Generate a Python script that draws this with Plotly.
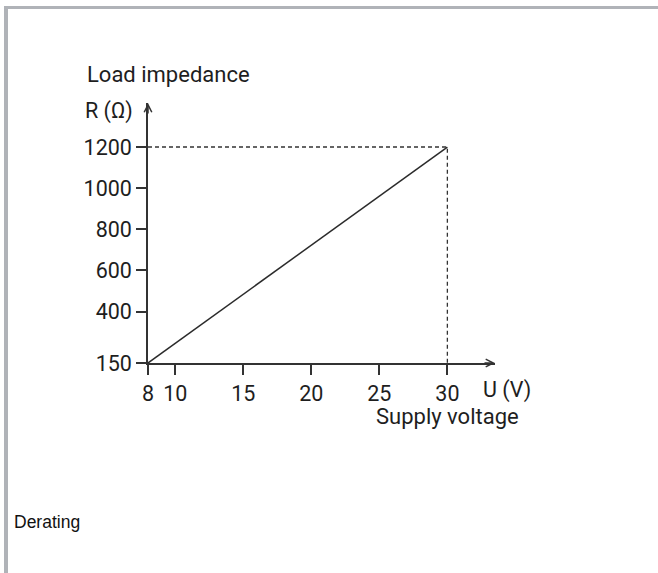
import plotly.graph_objects as go

# Data
u_line = [8, 30]
r_line = [150, 1200]
x_ticks = [8, 10, 15, 20, 25, 30]
y_ticks = [150, 400, 600, 800, 1000, 1200]
x_max_arrow = 33.5
y_max_arrow = 1414

W, H = 658, 573
ML, MR, MT, MB = 148, 163, 103, 210
PW = W - ML - MR
PH = H - MT - MB


def pxx(x):
    return (x - ML) / PW


def pxy(y):
    return (H - MB - y) / PH


FONT = "Roboto"
FS_TICK = 21.5
FS_TITLE = 22
TXT = "#1e1e1e"
AX = "#333333"

fig = go.Figure()
fig.add_trace(go.Scatter(
    x=[u_line[0], u_line[1], u_line[1]],
    y=[r_line[1], r_line[1], r_line[0]],
    mode="lines", line=dict(color="#333333", width=1.3, dash="4px,3px"),
    cliponaxis=False, hoverinfo="skip", showlegend=False))
fig.add_trace(go.Scatter(
    x=u_line, y=r_line, mode="lines",
    line=dict(color="#2b2b2b", width=1.5),
    cliponaxis=False, hoverinfo="skip", showlegend=False))

fig.update_layout(
    width=W, height=H,
    margin=dict(l=ML, r=MR, t=MT, b=MB),
    paper_bgcolor="white", plot_bgcolor="white",
    showlegend=False,
    font=dict(family=FONT, size=FS_TICK, color=TXT),
    xaxis=dict(range=[8, x_max_arrow], tickvals=x_ticks, ticktext=[str(v) for v in x_ticks],
               showgrid=False, zeroline=False, showline=True, linecolor=AX, linewidth=1.5,
               ticks="outside", ticklen=10, tickwidth=1.5, tickcolor=AX,
               tickfont=dict(family=FONT, size=FS_TICK, color=TXT), fixedrange=True),
    yaxis=dict(range=[150, y_max_arrow], tickvals=y_ticks, ticktext=[str(v) for v in y_ticks],
               showgrid=False, zeroline=False, showline=True, linecolor=AX, linewidth=1.5,
               ticks="outside", ticklen=10, tickwidth=1.5, tickcolor=AX,
               tickfont=dict(family=FONT, size=FS_TICK, color=TXT), fixedrange=True),
)

# axis arrowheads
fig.add_annotation(x=x_max_arrow, y=150, xref="x", yref="y", ax=-12, ay=0,
                   showarrow=True, arrowhead=5, arrowsize=1, arrowwidth=1.5,
                   arrowcolor=AX, text="")
fig.add_annotation(x=8, y=y_max_arrow, xref="x", yref="y", ax=0, ay=12,
                   showarrow=True, arrowhead=5, arrowsize=1, arrowwidth=1.5,
                   arrowcolor=AX, text="")

# labels
fig.add_annotation(x=pxx(85), y=pxy(75), xref="paper", yref="paper",
                   text="Load impedance", showarrow=False, xanchor="left", yanchor="middle",
                   font=dict(family=FONT, size=FS_TITLE, color=TXT))
fig.add_annotation(x=pxx(135), y=pxy(111), xref="paper", yref="paper",
                   text="R (Ω)", showarrow=False, xanchor="right", yanchor="middle",
                   font=dict(family=FONT, size=FS_TICK, color=TXT))
fig.add_annotation(x=pxx(481), y=pxy(390), xref="paper", yref="paper",
                   text="U (V)", showarrow=False, xanchor="left", yanchor="middle",
                   font=dict(family=FONT, size=FS_TICK, color=TXT))
fig.add_annotation(x=pxx(374), y=pxy(416), xref="paper", yref="paper",
                   text="Supply voltage", showarrow=False, xanchor="left", yanchor="middle",
                   font=dict(family=FONT, size=FS_TITLE, color=TXT))
fig.add_annotation(x=pxx(12), y=pxy(522), xref="paper", yref="paper",
                   text="Derating", showarrow=False, xanchor="left", yanchor="middle",
                   font=dict(family="Liberation Sans", size=17.5, color="#111111"))

# frame border (top and left)
BORDER = "#b0b3b8"
fig.add_shape(type="rect", xref="paper", yref="paper",
              x0=pxx(4), x1=pxx(W), y0=pxy(9), y1=pxy(6),
              fillcolor=BORDER, line=dict(width=0), layer="below")
fig.add_shape(type="rect", xref="paper", yref="paper",
              x0=pxx(4), x1=pxx(8), y0=pxy(H), y1=pxy(6),
              fillcolor=BORDER, line=dict(width=0), layer="below")

fig.write_html("out.html", config={"displayModeBar": False},
               post_script="document.body.style.margin='0';document.body.style.overflow='hidden';")
